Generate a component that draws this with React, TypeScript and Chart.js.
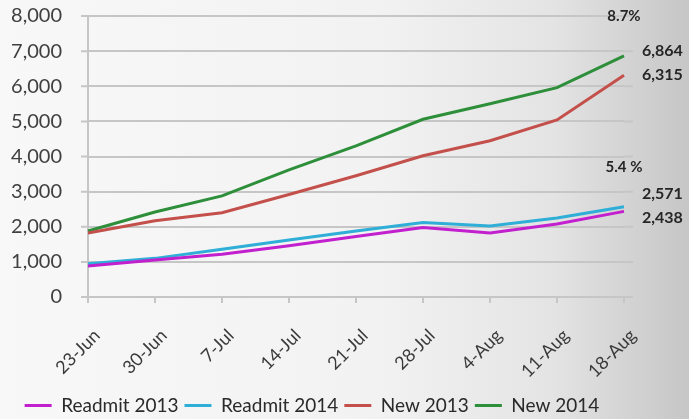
import React, { useEffect, useRef } from "react";
import { Chart, registerables } from "chart.js";

Chart.register(...registerables);

// Weekly census, summer 2013 vs 2014
const weeks = ["23-Jun", "30-Jun", "7-Jul", "14-Jul", "21-Jul", "28-Jul", "4-Aug", "11-Aug", "18-Aug"];
const readmit2013 = [880, 1050, 1220, 1460, 1720, 1980, 1820, 2080, 2438];
const readmit2014 = [950, 1100, 1360, 1620, 1880, 2120, 2020, 2250, 2571];
const new2013 = [1820, 2170, 2400, 2920, 3450, 4020, 4450, 5040, 6315];
const new2014 = [1880, 2420, 2880, 3620, 4300, 5060, 5500, 5960, 6864];
const growthLabels = ["8.7%", "5.4 %"];
const yTicks = [0, 1000, 2000, 3000, 4000, 5000, 6000, 7000, 8000];

const FONT = "Lato, 'Open Sans', sans-serif";
const GRID = "#c6c6c6";

const backgroundPlugin = {
  id: "bg",
  beforeDraw(chart: any) {
    const { ctx, width, height } = chart;
    ctx.save();
    const g = ctx.createLinearGradient(0, 0, width, 0);
    g.addColorStop(0, "#f8f8f8");
    g.addColorStop(0.55, "#f2f2f2");
    g.addColorStop(0.8, "#e4e4e4");
    g.addColorStop(1, "#c6c6c6");
    ctx.fillStyle = g;
    ctx.fillRect(0, 0, width, height);
    ctx.restore();
  },
};

// short tick stubs left of the y axis, and gridlines running slightly past the last category
const gridExtrasPlugin = {
  id: "gridExtras",
  beforeDatasetsDraw(chart: any) {
    const { ctx, chartArea, scales } = chart;
    ctx.save();
    ctx.strokeStyle = GRID;
    ctx.lineWidth = 2;
    yTicks.forEach((v) => {
      const y = scales.y.getPixelForValue(v);
      ctx.beginPath();
      ctx.moveTo(chartArea.left - 7, y);
      ctx.lineTo(chartArea.left, y);
      ctx.moveTo(chartArea.right, y);
      ctx.lineTo(chartArea.right + 9, y);
      ctx.stroke();
    });
    ctx.restore();
  },
};

// end-of-line value labels and year-over-year growth
const endLabelsPlugin = {
  id: "endLabels",
  afterDatasetsDraw(chart: any) {
    const { ctx, scales } = chart;
    const last = weeks.length - 1;
    const xPt = scales.x.getPixelForValue(last);
    const pairs = [
      { hi: new2014, lo: new2013, pct: growthLabels[0], gap: 34 },
      { hi: readmit2014, lo: readmit2013, pct: growthLabels[1], gap: 27 },
    ];
    ctx.save();
    ctx.fillStyle = "#262626";
    ctx.textBaseline = "middle";
    pairs.forEach((p) => {
      const yHi = scales.y.getPixelForValue(p.hi[last]);
      const yLo = scales.y.getPixelForValue(p.lo[last]);
      const mid = (yHi + yLo) / 2 - 3;
      const top = mid - 12;
      ctx.font = `bold 16px ${FONT}`;
      ctx.textAlign = "left";
      ctx.fillText(p.hi[last].toLocaleString("en-US"), xPt + 18, top);
      ctx.fillText(p.lo[last].toLocaleString("en-US"), xPt + 18, mid + 12);
      ctx.font = `bold 15px ${FONT}`;
      ctx.textAlign = "center";
      ctx.fillText(p.pct, xPt, top - p.gap);
    });
    ctx.restore();
  },
};

export default function App() {
  const ref = useRef<HTMLCanvasElement>(null);

  useEffect(() => {
    if (!ref.current) return;
    const mk = (label: string, data: number[], color: string) => ({
      label,
      data,
      borderColor: color,
      backgroundColor: color,
      borderWidth: 3,
      pointRadius: 0,
      tension: 0,
    });
    const chart = new Chart(ref.current, {
      type: "line",
      data: {
        labels: weeks,
        datasets: [
          mk("Readmit 2013", readmit2013, "#c21fce"),
          mk("Readmit 2014", readmit2014, "#2faed8"),
          mk("New 2013", new2013, "#c4504c"),
          mk("New 2014", new2014, "#2e8f3a"),
        ],
      },
      options: {
        animation: false,
        responsive: false,
        layout: { padding: { top: 16, right: 65, bottom: -6, left: 0 } },
        plugins: {
          tooltip: { enabled: false },
          legend: {
            position: "bottom",
            labels: {
              usePointStyle: true,
              pointStyle: "line",
              pointStyleWidth: 27,
              color: "#2a2a2a",
              font: { family: FONT, size: 19 },
              padding: 6,
            },
          },
        },
        scales: {
          x: {
            offset: false,
            afterFit: (s: any) => {
              s.height = 93;
            },
            grid: {
              drawOnChartArea: false,
              drawTicks: true,
              tickLength: 6,
              color: GRID,
              lineWidth: 2,
            },
            border: { color: GRID, width: 2 },
            ticks: {
              color: "#3a3a3a",
              font: { family: FONT, size: 18 },
              maxRotation: 45,
              minRotation: 45,
              autoSkip: false,
              padding: 22,
              labelOffset: 9,
            },
          },
          y: {
            min: 0,
            max: 8000,
            afterFit: (s: any) => {
              s.width = 88;
            },
            grid: {
              color: GRID,
              lineWidth: 2,
              tickLength: 23,
              tickColor: "rgba(0,0,0,0)",
            },
            border: { color: GRID, width: 2 },
            ticks: {
              stepSize: 1000,
              color: "#404040",
              font: { family: FONT, size: 20 },
              padding: 3,
              callback: (v: any) => Number(v).toLocaleString("en-US"),
            },
          },
        },
      },
      plugins: [backgroundPlugin, gridExtrasPlugin, endLabelsPlugin],
    });
    return () => chart.destroy();
  }, []);

  return (
    <div style={{ position: "absolute", left: 0, top: 0, width: 689, height: 419 }}>
      <canvas ref={ref} width={689} height={419} style={{ display: "block" }} />
    </div>
  );
}
